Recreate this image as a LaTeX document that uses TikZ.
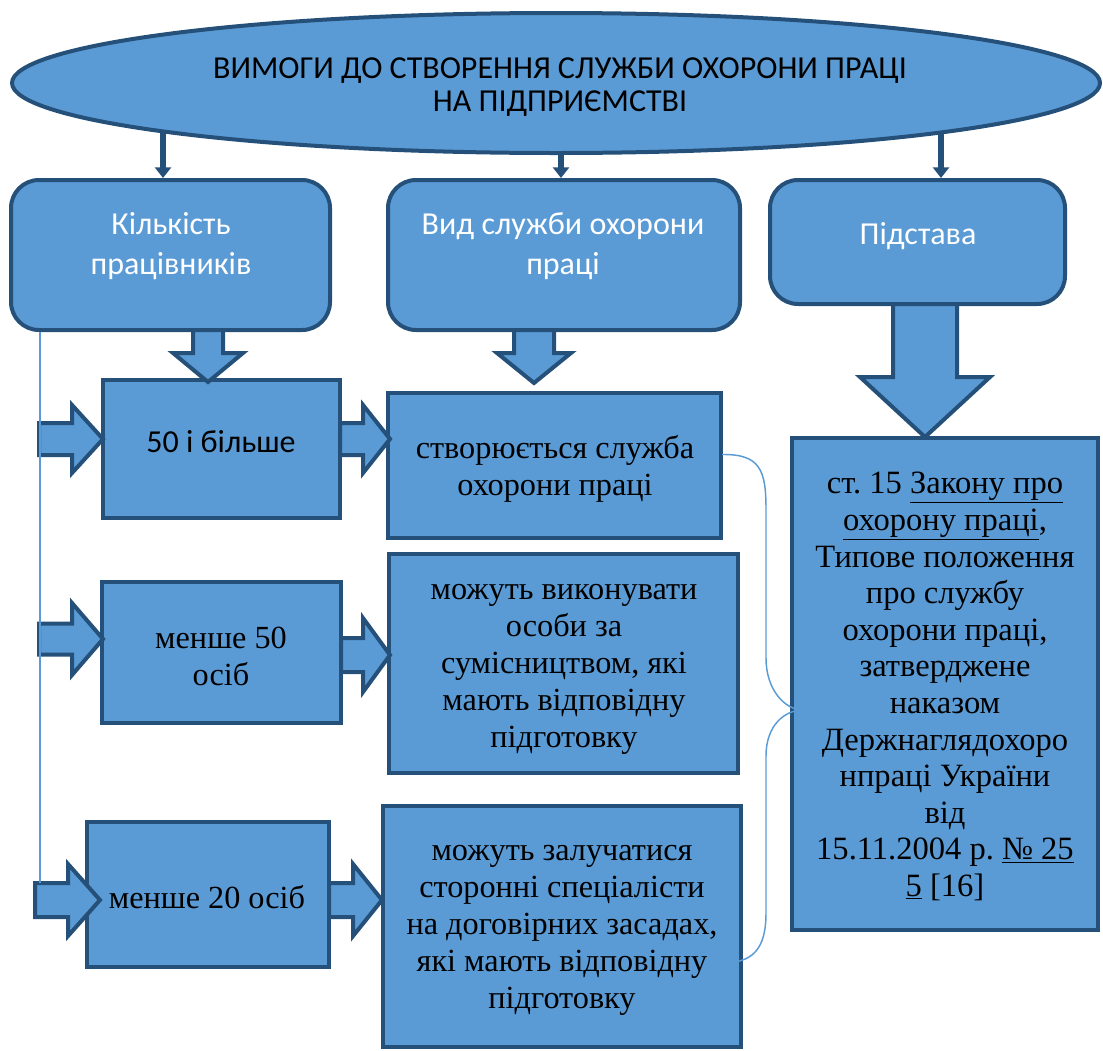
\documentclass[tikz,border=0pt]{standalone}
\usepackage{fontspec}
\setmainfont{Liberation Serif}
\newfontfamily\calib{Carlito}
\usetikzlibrary{arrows.meta,calc,shapes.geometric}
\definecolor{fillb}{HTML}{5B9BD5}
\definecolor{edgeb}{HTML}{24507A}
\frenchspacing
\newcommand\harrow[6]{% x0, head start, tip, y centre, shaft half, head half
  \draw[blk] ({#1},{#4-#5}) -- ({#2},{#4-#5}) -- ({#2},{#4-#6}) -- ({#3},{#4})
    -- ({#2},{#4+#6}) -- ({#2},{#4+#5}) -- ({#1},{#4+#5}) -- cycle;}
\newcommand\varrow[6]{% y0, head start, tip, x centre, shaft half, head half
  \draw[blk] ({#4-#5},{#1}) -- ({#4-#5},{#2}) -- ({#4-#6},{#2}) -- ({#4},{#3})
    -- ({#4+#6},{#2}) -- ({#4+#5},{#2}) -- ({#4+#5},{#1}) -- cycle;}
\begin{document}
\begin{tikzpicture}[x=0.75pt,y=-0.75pt,
  boxr/.style={draw=edgeb, fill=fillb, line width=3pt, rounded corners=21pt, inner sep=0pt},
  boxs/.style={draw=edgeb, fill=fillb, line width=3pt, inner sep=0pt},
  blk/.style={draw=edgeb, fill=fillb, line width=3pt, line join=miter},
  thinarr/.style={draw=edgeb, line width=4.2pt, -{Triangle[width=12pt,length=8pt]}},
  brace/.style={draw=fillb, line width=1.1pt},
  cal/.style={font=\calib\fontsize{24}{30}\selectfont, align=center, inner sep=0pt},
  tms/.style={font=\fontsize{24.2}{27.75}\selectfont, align=center, inner sep=0pt}]
\useasboundingbox (0,0) rectangle (1103,1050);

% title ellipse
\node[ellipse, draw=edgeb, fill=fillb, line width=3pt, minimum width=1088*0.75pt,
      minimum height=140*0.75pt, inner sep=0pt] (title) at (556,83) {};
\node[font=\calib\fontsize{24}{24.75}\selectfont, align=center, inner sep=0pt] (titlet) at (560,87)
  {ВИМОГИ ДО СТВОРЕННЯ СЛУЖБИ ОХОРОНИ ПРАЦІ\\НА ПІДПРИЄМСТВІ};

% top row rounded boxes
\node[boxr, minimum width=319*0.75pt, minimum height=150*0.75pt] (box1) at (170.5,255) {};
\node[boxr, minimum width=352*0.75pt, minimum height=150*0.75pt] (box2) at (564,255) {};
\node[boxr, minimum width=295*0.75pt, minimum height=124*0.75pt] (box3) at (917.5,242) {};
\node[cal, text=white] (box1t) at (171,246) {Кількість\\працівників};
\node[cal, text=white] (box2t) at (563,246) {Вид служби охорони\\праці};
\node[cal, text=white] (box3t) at (918,236) {Підстава};

% arrows from title
\coordinate (a1) at (163,132);
\coordinate (a2) at (561,154);
\coordinate (a3) at (941,132);
\draw[thinarr] (a1) -- (a1 |- box1.north);
\draw[thinarr] (a2) -- (a2 |- box2.north);
\draw[thinarr] (a3) -- (a3 |- box3.north);

% left column
\node[boxs, minimum width=237*0.75pt, minimum height=138*0.75pt] (b50) at (221.5,449) {};
\node[boxs, minimum width=239*0.75pt, minimum height=141*0.75pt] (bm50) at (221.5,652.5) {};
\node[boxs, minimum width=242*0.75pt, minimum height=145*0.75pt] (bm20) at (208,894.5) {};
\node[inner sep=0pt, font=\calib\fontsize{24}{30}\selectfont] (b50t) at (221,442) {50 і більше};
\node[tms] (bm50t) at (221,656) {менше 50\\осіб};
\node[tms] (bm20t) at (207,897) {менше 20 осіб};

% middle column
\node[boxs, minimum width=333*0.75pt, minimum height=145*0.75pt] (sv) at (554.5,465.5) {};
\node[boxs, minimum width=349*0.75pt, minimum height=219*0.75pt] (mv) at (563.5,663.5) {};
\node[boxs, minimum width=358*0.75pt, minimum height=241*0.75pt] (mz) at (562,926.5) {};
\node[tms] (svt) at (555,468.5) {створюється служба\\охорони праці};
\node[tms] (mvt) at (564,669.5) {можуть виконувати\\особи за\\сумісництвом, які\\мають відповідну\\підготовку};
\node[tms] (mzt) at (562,930.5) {можуть залучатися\\сторонні спеціалісти\\на договірних засадах,\\які мають відповідну\\підготовку};

% right box
\node[boxs, minimum width=306*0.75pt, minimum height=492*0.75pt] (law) at (945,684) {};
\node[font=\fontsize{24.4}{27.45}\selectfont, align=center, inner sep=0pt] (lawt) at (945,686.5)
  {ст. 15 \underline{Закону про}\\\underline{охорону праці},\\Типове положення\\про службу\\охорони праці,\\затверджене\\наказом\\Держнаглядохоро\\нпраці України\\від\\15.11.2004 р. \underline{№ 25}\\\underline{5} [16]};

% block arrows
\varrow{330}{353}{382}{208}{15}{35}
\varrow{330}{353}{383}{534}{20}{37}
\varrow{304}{377}{437}{925}{32}{65}
\harrow{39}{72}{103}{439}{16}{34}
\harrow{39}{72}{103}{639}{15.5}{36}
\harrow{35}{68}{100}{900}{17}{36}
\harrow{340}{363}{390}{439}{16}{34}
\harrow{341}{363}{390}{655}{17}{37}
\harrow{329}{353}{382}{900}{17}{36}

% thin left line
\coordinate (vl) at (40,883);
\draw[brace] (vl |- box1.south) -- (vl);

% brace
\coordinate (brT) at ($(sv.east)+(-1,-11)$);
\coordinate (brM) at ($(law.west)+(13,26)$);
\coordinate (brB) at ($(mz.east)+(-21,36.5)$);
\draw[brace] (brT) .. controls (760,454) and (766,470) .. (766,509)
  -- (766,658) .. controls (766,690) and (785,710) .. (brM);
\draw[brace] (brM) .. controls (785,710) and (766,725) .. (766,756)
  -- (766,913) .. controls (766,950) and (752,963) .. (brB);
\end{tikzpicture}
\end{document}
